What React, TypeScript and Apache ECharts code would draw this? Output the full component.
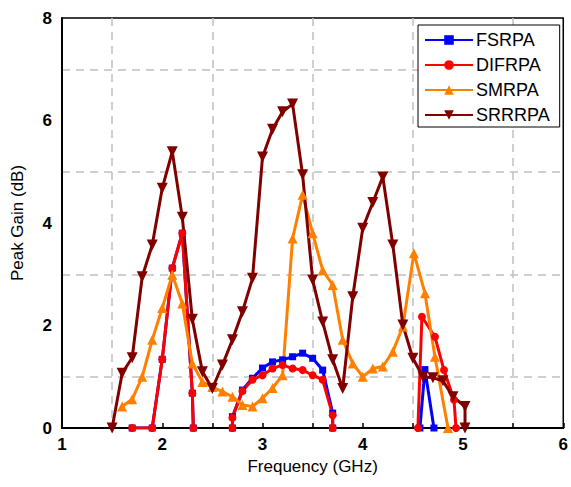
import React, { useEffect, useRef } from "react";
import * as echarts from "echarts";

// Frequency (GHz) / Peak Gain (dB); null = gap in the curve
const fsrpaFreq = [1.7, 1.9, 2.0, 2.1, 2.2, 2.3, 2.31, 2.5, 2.7, 2.7, 2.8, 2.9, 3.0, 3.1, 3.2, 3.3, 3.4, 3.5, 3.6, 3.7, 3.7, 4.1, 4.57, 4.62, 4.71];
const fsrpaGain = [0, 0, 1.34, 3.12, 3.8, 0.68, 0, null, 0, 0.22, 0.74, 0.97, 1.17, 1.29, 1.33, 1.39, 1.46, 1.36, 1.13, 0.29, 0, null, 0, 1.14, 0];

const difrpaFreq = [1.7, 1.9, 2.0, 2.1, 2.2, 2.3, 2.31, 2.5, 2.7, 2.7, 2.8, 2.9, 3.0, 3.1, 3.2, 3.3, 3.4, 3.5, 3.6, 3.7, 3.7, 4.1, 4.55, 4.59, 4.72, 4.81, 4.91, 4.93];
const difrpaGain = [0, 0, 1.34, 3.12, 3.8, 0.68, 0, null, 0, 0.2, 0.72, 0.94, 1.03, 1.16, 1.23, 1.16, 1.13, 1.03, 0.94, 0.25, 0, null, 0, 2.17, 1.78, 1.13, 0.55, 0];

const smrpaFreq = [1.6, 1.7, 1.8, 1.9, 2.0, 2.1, 2.2, 2.3, 2.4, 2.5, 2.6, 2.7, 2.8, 2.9, 3.0, 3.1, 3.2, 3.3, 3.4, 3.5, 3.6, 3.7, 3.8, 3.9, 4.0, 4.1, 4.2, 4.3, 4.4, 4.51, 4.62, 4.72, 4.85];
const smrpaGain = [0.42, 0.56, 1.0, 1.72, 2.34, 2.99, 2.43, 1.26, 0.9, 0.8, 0.71, 0.61, 0.45, 0.42, 0.58, 0.78, 1.03, 3.7, 4.55, 3.8, 3.08, 2.79, 1.72, 1.26, 1.0, 1.16, 1.2, 1.49, 1.98, 3.41, 2.63, 1.39, 0];

const srrrpaFreq = [1.5, 1.6, 1.7, 1.8, 1.9, 2.0, 2.1, 2.2, 2.3, 2.4, 2.5, 2.6, 2.7, 2.8, 2.9, 3.0, 3.1, 3.2, 3.3, 3.4, 3.5, 3.6, 3.7, 3.8, 3.9, 4.0, 4.1, 4.2, 4.3, 4.4, 4.5, 4.6, 4.7, 4.8, 4.9, 5.02, 5.02];
const srrrpaGain = [0, 1.07, 1.37, 2.95, 3.57, 4.68, 5.39, 4.11, 2.12, 1.1, 0.77, 1.23, 1.72, 2.27, 2.92, 5.29, 5.83, 6.17, 6.32, 4.94, 2.89, 2.07, 1.33, 0.77, 2.56, 3.9, 4.4, 4.9, 3.57, 2.01, 1.36, 1.0, 0.98, 0.92, 0.61, 0.42, 0];

const seriesNames = ["FSRPA", "DIFRPA", "SMRPA", "SRRRPA"];
const xTicks = [1, 2, 3, 4, 5, 6];
const yTicks = [0, 2, 4, 6, 8];

const pairs = (xs: number[], ys: (number | null)[]) =>
  xs.map((x, i) => [x, ys[i] === null ? "-" : ys[i]]);

const FONT = "'Liberation Sans', Arial, sans-serif";

export default function App() {
  const ref = useRef<HTMLDivElement>(null);
  useEffect(() => {
    if (!ref.current) return;
    const chart = echarts.init(ref.current, undefined, { renderer: "svg" });
    const mk = (name: string, xs: number[], ys: (number | null)[], color: string, symbol: string, size: number, rot = 0) => ({
      name,
      type: "line",
      data: pairs(xs, ys),
      color,
      symbol,
      symbolSize: size,
      symbolRotate: rot,
      showAllSymbol: true,
      connectNulls: false,
      lineStyle: { width: 3, color },
      itemStyle: { color },
      emphasis: { disabled: true },
    });
    chart.setOption({
      animation: false,
      backgroundColor: "#fff",
      textStyle: { fontFamily: FONT },
      grid: {
        left: 62,
        right: 3,
        top: 18,
        bottom: 59,
        show: true,
        borderColor: "#000",
        borderWidth: 1.5,
        backgroundColor: "transparent",
      },
      legend: {
        left: 418,
        top: 25,
        orient: "vertical",
        data: seriesNames,
        itemWidth: 48,
        itemHeight: 12,
        itemGap: 7,
        padding: [6, 10, 3, 6],
        borderColor: "#000",
        borderWidth: 1,
        backgroundColor: "#fff",
        textStyle: { fontSize: 18, color: "#000", fontFamily: FONT, padding: [0, 0, 0, -2], lineHeight: 17 },
      },
      xAxis: {
        type: "value",
        min: xTicks[0],
        max: xTicks[xTicks.length - 1],
        interval: 1,
        name: "Frequency (GHz)",
        nameLocation: "middle",
        nameGap: 30,
        nameTextStyle: { fontSize: 17, color: "#000", fontFamily: FONT },
        axisLine: { show: true, lineStyle: { color: "#000", width: 2 } },
        axisTick: { show: true, inside: true, length: 5, lineStyle: { color: "#000", width: 1.5 } },
        minorTick: { show: true, splitNumber: 2, length: 5, lineStyle: { color: "#000", width: 1.5 } },
        axisLabel: { fontSize: 17, fontWeight: "bold", color: "#000", margin: 8, fontFamily: FONT },
        splitLine: { show: false },
        minorSplitLine: { show: true, lineStyle: { color: "#c0c0c0", type: [8, 6], width: 1.5 } },
      },
      yAxis: {
        type: "value",
        min: yTicks[0],
        max: yTicks[yTicks.length - 1],
        interval: 2,
        name: "Peak Gain (dB)",
        nameLocation: "middle",
        nameGap: 36,
        nameTextStyle: { fontSize: 17, color: "#000", fontFamily: FONT },
        axisLine: { show: true, lineStyle: { color: "#000", width: 2 } },
        axisTick: { show: false },
        minorTick: { show: false, splitNumber: 2 },
        axisLabel: { fontSize: 17, fontWeight: "bold", color: "#000", margin: 10, fontFamily: FONT },
        splitLine: { show: false },
        minorSplitLine: { show: true, lineStyle: { color: "#c0c0c0", type: [8, 6], width: 1.5 } },
      },
      series: [
        mk(seriesNames[0], fsrpaFreq, fsrpaGain, "#0000ff", "rect", 7),
        mk(seriesNames[1], difrpaFreq, difrpaGain, "#ff0000", "circle", 8),
        mk(seriesNames[2], smrpaFreq, smrpaGain, "#ff8000", "triangle", 10),
        mk(seriesNames[3], srrrpaFreq, srrrpaGain, "#800000", "triangle", 11, 180),
      ],
    });
    return () => chart.dispose();
  }, []);
  return <div ref={ref} style={{ width: 571, height: 487, position: "absolute", left: 0, top: 0 }} />;
}
